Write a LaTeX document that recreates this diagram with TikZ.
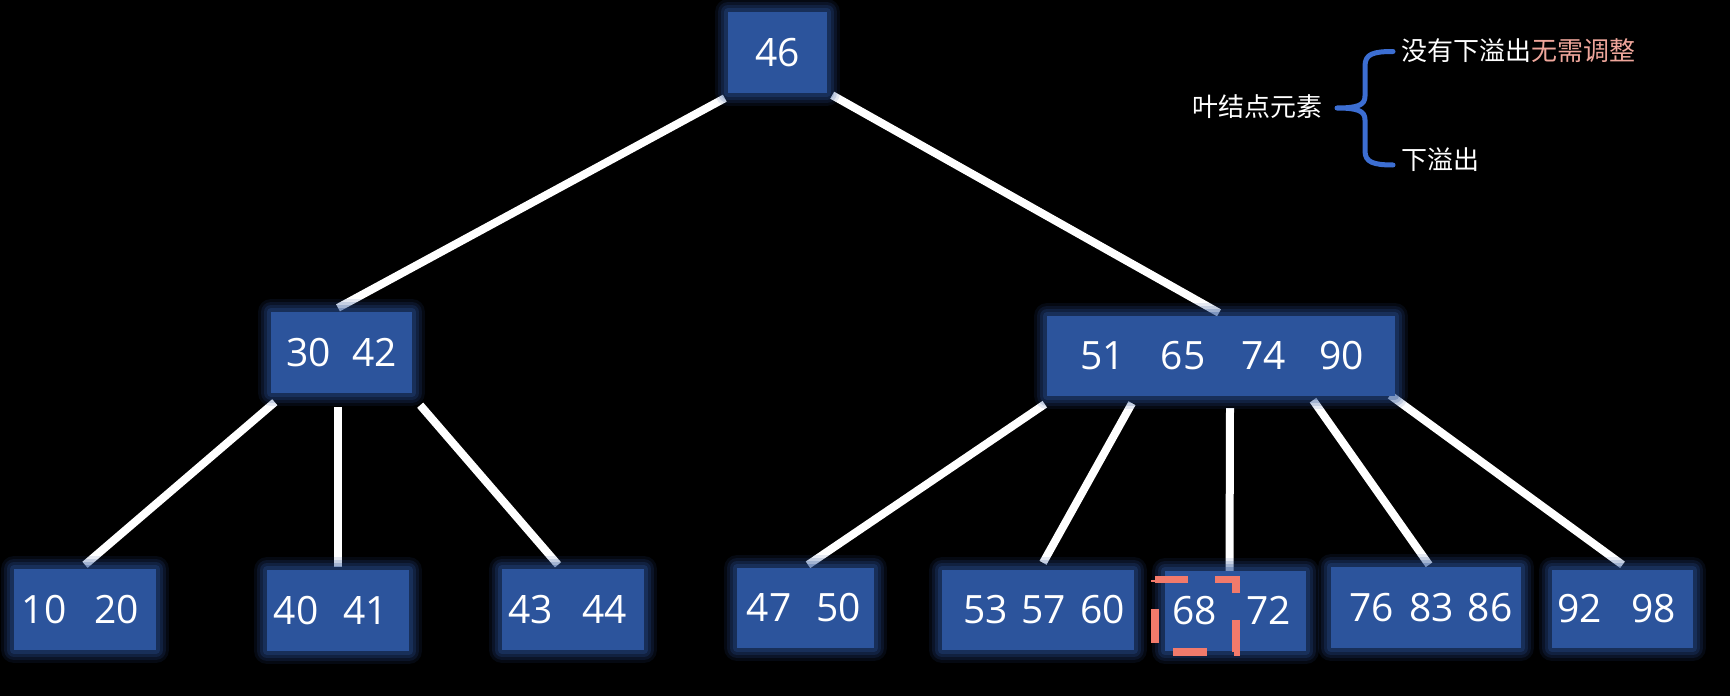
\documentclass[tikz,border=0pt]{standalone}
\usepackage{fontspec}
\newfontfamily\numfont{Open Sans}
\newfontfamily\cjk{Noto Sans CJK SC}
\definecolor{nodefill}{HTML}{2C549C}
\definecolor{glowA}{HTML}{2A5096}
\definecolor{hlcoral}{HTML}{F27A6B}
\definecolor{pinktxt}{HTML}{EFA69B}
\definecolor{braceblue}{HTML}{3C6ED2}
\pgfdeclarelayer{bg}
\pgfsetlayers{bg,main}
\newcommand\numtxt[2]{\makebox[0pt]{\hspace*{#1}\hspace*{#1}#2}}
\tikzset{
  bnode/.style={rectangle, fill=nodefill, inner sep=0pt, text=white,
    font=\numfont\fontsize{39pt}{40pt}\selectfont,
    preaction={draw=glowA, line width=26pt, opacity=0.12, line join=round},
    preaction={draw=glowA, line width=20pt, opacity=0.17, line join=round},
    preaction={draw=glowA, line width=14pt, opacity=0.22, line join=round},
    preaction={draw=glowA, line width=8pt, opacity=0.30, line join=round}},
  edge/.style={draw=white, line width=8pt},
  cjktext/.style={inner sep=0pt, text=white, font=\cjk\fontsize{26pt}{28pt}\selectfont},
  hlbox/.style={draw=hlcoral, line width=7.5pt, dash pattern=on 34pt off 27.2pt, dash phase=1pt},
  bracestyle/.style={draw=braceblue, line width=5pt, line cap=round, line join=round}
}
\begin{document}
\begin{tikzpicture}[x=1pt,y=-1pt]
\useasboundingbox (0,0) rectangle (1730,696);
\begin{pgfonlayer}{bg}
\fill[black] (0,0) rectangle (1730,696);
\end{pgfonlayer}

% nodes
\node (n46) [bnode, minimum width=99pt, minimum height=81pt] at (777.5,52.5) {\numtxt{0pt}{46}};
\node (n3042) [bnode, minimum width=141pt, minimum height=81pt] at (341.5,352.5) {\numtxt{0pt}{30\hspace{21pt}42}};
\node (nR) [bnode, minimum width=348pt, minimum height=80pt] at (1221,356) {\numtxt{1pt}{51\hspace{36pt}65\hspace{36pt}74\hspace{33pt}90}};
\node (n1020) [bnode, minimum width=142pt, minimum height=81pt] at (85,609.5) {\numtxt{-4.5pt}{10\hspace{28pt}20}};
\node (n4041) [bnode, minimum width=142pt, minimum height=81pt] at (338,610.5) {\numtxt{-7pt}{40\hspace{25pt}41}};
\node (n4344) [bnode, minimum width=142pt, minimum height=81pt] at (573,609.5) {\numtxt{-5.5pt}{43\hspace{29pt}44}};
\node (n4750) [bnode, minimum width=137pt, minimum height=80pt] at (805.5,608) {\numtxt{-1.5pt}{47\hspace{25pt}50}};
\node (n535760) [bnode, minimum width=192pt, minimum height=80pt] at (1038,610) {\numtxt{6pt}{53\hspace{14pt}57\hspace{14pt}60}};
\node (n6872) [bnode, minimum width=141pt, minimum height=80pt] at (1235.5,611) {\numtxt{-4pt}{68\hspace{29pt}72}};
\node (n768386) [bnode, minimum width=190pt, minimum height=81pt] at (1426,607.5) {\numtxt{5pt}{76\hspace{15pt}83\hspace{14pt}86}};
\node (n9298) [bnode, minimum width=141pt, minimum height=78pt] at (1622.5,609) {\numtxt{-6pt}{92\hspace{29pt}98}};

% connectors (behind nodes)
\begin{pgfonlayer}{bg}
\draw[edge] ([xshift=-3pt,yshift=-5pt]n46.south west) -- ([xshift=-3.5pt,yshift=4pt]n3042.north);
\draw[edge] ([xshift=5pt,yshift=-2pt]n46.south east) -- ([xshift=-2pt,yshift=3pt]nR.north);
\draw[edge] ([xshift=4pt,yshift=-9pt]n3042.south west) -- ([yshift=4pt]n1020.north);
\draw[edge] ([xshift=-3.5pt,yshift=-14pt]n3042.south) -- ([yshift=3pt]n4041.north);
\draw[edge] ([xshift=8pt,yshift=-12pt]n3042.south east) -- ([xshift=-15pt,yshift=4pt]n4344.north);
\draw[edge] ([xshift=-2pt,yshift=-8pt]nR.south west) -- ([xshift=2.5pt,yshift=3pt]n4750.north);
\draw[edge] ([xshift=-89pt,yshift=-7pt]nR.south) -- ([xshift=5pt,yshift=7pt]n535760.north);
\draw[edge] ([xshift=9pt,yshift=-12pt]nR.south) -- ([xshift=-6pt]n6872.north);
\draw[edge] ([xshift=92pt,yshift=-4pt]nR.south) -- ([xshift=3pt,yshift=2pt]n768386.north);
\draw[edge] ([xshift=-5pt,yshift=1pt]nR.south east) -- ([yshift=5pt]n9298.north);
\end{pgfonlayer}

% highlight around 68
\draw[hlbox] (1155,579.5) -- (1236,579.5) -- (1236,652) -- (1155,652) -- cycle;

% annotation
\node (leaf) [cjktext, anchor=west] at (1192,107) {叶结点元素};
\node (noover) [cjktext, anchor=west] at (1401,51) {没有下溢出\textcolor{pinktxt}{无需调整}};
\node (over) [cjktext, anchor=west] at (1401,160) {下溢出};
\draw[bracestyle] (1393,51.5) .. controls (1373,51.5) and (1365,54) .. (1365,66) -- (1365,96)
  .. controls (1365,105) and (1358,108) .. (1337,108)
  .. controls (1358,108) and (1365,111) .. (1365,120) -- (1365,151)
  .. controls (1365,162) and (1373,165) .. (1393,165);
\end{tikzpicture}
\end{document}
